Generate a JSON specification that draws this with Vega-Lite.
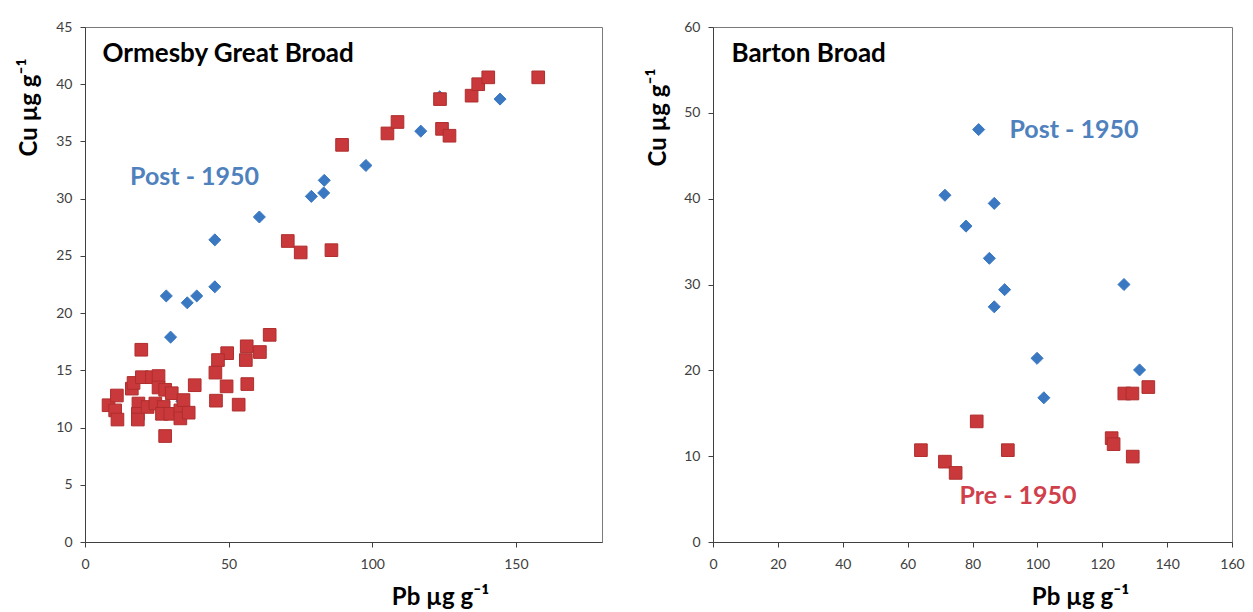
{
  "$schema": "https://vega.github.io/schema/vega-lite/v6.json",
  "padding": {"left": 16, "top": 19, "right": 5, "bottom": 0},
  "background": "white",
  "spacing": 42,
  "config": {
    "view": {"stroke": "#7a7a7a", "strokeWidth": 1},
    "axis": {
      "grid": false,
      "labelFont": "Lato",
      "labelFontSize": 14,
      "labelColor": "#404040",
      "titleFont": "Lato",
      "titleFontSize": 24,
      "titleFontWeight": "bold",
      "titleColor": "#000000",
      "tickSize": 5,
      "tickColor": "#404040",
      "domainColor": "#404040",
      "titleAlign": "center",
      "titleBaseline": "middle"
    },
    "axisX": {"labelPadding": 10, "labelFlush": false},
    "axisY": {"labelPadding": 8},
    "text": {"align": "left", "baseline": "middle", "font": "Lato", "fontWeight": "bold"}
  },
  "datasets": {
    "points": [
      {"panel": "O", "period": "Post", "Pb": 28.3, "Cu": 21.5},
      {"panel": "O", "period": "Post", "Pb": 29.8, "Cu": 17.9},
      {"panel": "O", "period": "Post", "Pb": 35.6, "Cu": 20.9},
      {"panel": "O", "period": "Post", "Pb": 38.9, "Cu": 21.5},
      {"panel": "O", "period": "Post", "Pb": 45.2, "Cu": 22.3},
      {"panel": "O", "period": "Post", "Pb": 45.2, "Cu": 26.4},
      {"panel": "O", "period": "Post", "Pb": 60.7, "Cu": 28.4},
      {"panel": "O", "period": "Post", "Pb": 78.8, "Cu": 30.2},
      {"panel": "O", "period": "Post", "Pb": 83.1, "Cu": 30.5},
      {"panel": "O", "period": "Post", "Pb": 83.3, "Cu": 31.6},
      {"panel": "O", "period": "Post", "Pb": 97.8, "Cu": 32.9},
      {"panel": "O", "period": "Post", "Pb": 116.9, "Cu": 35.9},
      {"panel": "O", "period": "Post", "Pb": 123.5, "Cu": 38.9},
      {"panel": "O", "period": "Post", "Pb": 144.5, "Cu": 38.7},
      {"panel": "O", "period": "Post", "Pb": 33.7, "Cu": 12.3},
      {"panel": "O", "period": "Pre", "Pb": 89.5, "Cu": 34.7},
      {"panel": "O", "period": "Pre", "Pb": 105.3, "Cu": 35.7},
      {"panel": "O", "period": "Pre", "Pb": 108.8, "Cu": 36.7},
      {"panel": "O", "period": "Pre", "Pb": 123.6, "Cu": 38.7},
      {"panel": "O", "period": "Pre", "Pb": 124.3, "Cu": 36.1},
      {"panel": "O", "period": "Pre", "Pb": 126.9, "Cu": 35.5},
      {"panel": "O", "period": "Pre", "Pb": 134.6, "Cu": 39.0},
      {"panel": "O", "period": "Pre", "Pb": 136.9, "Cu": 40.0},
      {"panel": "O", "period": "Pre", "Pb": 140.4, "Cu": 40.6},
      {"panel": "O", "period": "Pre", "Pb": 157.8, "Cu": 40.6},
      {"panel": "O", "period": "Pre", "Pb": 85.8, "Cu": 25.5},
      {"panel": "O", "period": "Pre", "Pb": 70.6, "Cu": 26.3},
      {"panel": "O", "period": "Pre", "Pb": 75.1, "Cu": 25.3},
      {"panel": "O", "period": "Pre", "Pb": 19.6, "Cu": 16.8},
      {"panel": "O", "period": "Pre", "Pb": 64.3, "Cu": 18.1},
      {"panel": "O", "period": "Pre", "Pb": 56.3, "Cu": 17.1},
      {"panel": "O", "period": "Pre", "Pb": 60.9, "Cu": 16.6},
      {"panel": "O", "period": "Pre", "Pb": 49.5, "Cu": 16.5},
      {"panel": "O", "period": "Pre", "Pb": 46.3, "Cu": 15.9},
      {"panel": "O", "period": "Pre", "Pb": 56.0, "Cu": 15.9},
      {"panel": "O", "period": "Pre", "Pb": 45.4, "Cu": 14.8},
      {"panel": "O", "period": "Pre", "Pb": 49.3, "Cu": 13.6},
      {"panel": "O", "period": "Pre", "Pb": 56.5, "Cu": 13.8},
      {"panel": "O", "period": "Pre", "Pb": 38.2, "Cu": 13.7},
      {"panel": "O", "period": "Pre", "Pb": 45.6, "Cu": 12.35},
      {"panel": "O", "period": "Pre", "Pb": 53.5, "Cu": 12.0},
      {"panel": "O", "period": "Pre", "Pb": 27.9, "Cu": 9.26},
      {"panel": "O", "period": "Pre", "Pb": 8.2, "Cu": 11.95},
      {"panel": "O", "period": "Pre", "Pb": 11.1, "Cu": 12.8},
      {"panel": "O", "period": "Pre", "Pb": 10.5, "Cu": 11.5},
      {"panel": "O", "period": "Pre", "Pb": 11.3, "Cu": 10.7},
      {"panel": "O", "period": "Pre", "Pb": 16.3, "Cu": 13.4},
      {"panel": "O", "period": "Pre", "Pb": 16.9, "Cu": 13.9},
      {"panel": "O", "period": "Pre", "Pb": 18.6, "Cu": 12.1},
      {"panel": "O", "period": "Pre", "Pb": 18.4, "Cu": 11.2},
      {"panel": "O", "period": "Pre", "Pb": 18.4, "Cu": 10.7},
      {"panel": "O", "period": "Pre", "Pb": 19.8, "Cu": 14.4},
      {"panel": "O", "period": "Pre", "Pb": 23.3, "Cu": 14.4},
      {"panel": "O", "period": "Pre", "Pb": 25.6, "Cu": 14.5},
      {"panel": "O", "period": "Pre", "Pb": 21.8, "Cu": 11.8},
      {"panel": "O", "period": "Pre", "Pb": 25.6, "Cu": 13.5},
      {"panel": "O", "period": "Pre", "Pb": 24.5, "Cu": 12.1},
      {"panel": "O", "period": "Pre", "Pb": 27.9, "Cu": 13.3},
      {"panel": "O", "period": "Pre", "Pb": 30.2, "Cu": 13.0},
      {"panel": "O", "period": "Pre", "Pb": 27.4, "Cu": 11.8},
      {"panel": "O", "period": "Pre", "Pb": 26.8, "Cu": 11.2},
      {"panel": "O", "period": "Pre", "Pb": 29.7, "Cu": 11.2},
      {"panel": "O", "period": "Pre", "Pb": 33.2, "Cu": 11.5},
      {"panel": "O", "period": "Pre", "Pb": 33.2, "Cu": 10.8},
      {"panel": "O", "period": "Pre", "Pb": 36.1, "Cu": 11.3},
      {"panel": "O", "period": "Pre", "Pb": 34.3, "Cu": 12.4},
      {"panel": "B", "period": "Post", "Pb": 81.9, "Cu": 48.05},
      {"panel": "B", "period": "Post", "Pb": 71.5, "Cu": 40.4},
      {"panel": "B", "period": "Post", "Pb": 86.7, "Cu": 39.45},
      {"panel": "B", "period": "Post", "Pb": 78.0, "Cu": 36.8},
      {"panel": "B", "period": "Post", "Pb": 85.2, "Cu": 33.05},
      {"panel": "B", "period": "Post", "Pb": 89.9, "Cu": 29.4},
      {"panel": "B", "period": "Post", "Pb": 86.7, "Cu": 27.4},
      {"panel": "B", "period": "Post", "Pb": 126.7, "Cu": 30.0},
      {"panel": "B", "period": "Post", "Pb": 99.9, "Cu": 21.4},
      {"panel": "B", "period": "Post", "Pb": 131.5, "Cu": 20.05},
      {"panel": "B", "period": "Post", "Pb": 102.0, "Cu": 16.8},
      {"panel": "B", "period": "Pre", "Pb": 64.1, "Cu": 10.7},
      {"panel": "B", "period": "Pre", "Pb": 71.5, "Cu": 9.36},
      {"panel": "B", "period": "Pre", "Pb": 74.8, "Cu": 8.05},
      {"panel": "B", "period": "Pre", "Pb": 81.3, "Cu": 14.05},
      {"panel": "B", "period": "Pre", "Pb": 90.9, "Cu": 10.7},
      {"panel": "B", "period": "Pre", "Pb": 122.9, "Cu": 12.1},
      {"panel": "B", "period": "Pre", "Pb": 123.5, "Cu": 11.4},
      {"panel": "B", "period": "Pre", "Pb": 129.4, "Cu": 9.95},
      {"panel": "B", "period": "Pre", "Pb": 126.8, "Cu": 17.3},
      {"panel": "B", "period": "Pre", "Pb": 129.3, "Cu": 17.3},
      {"panel": "B", "period": "Pre", "Pb": 134.2, "Cu": 18.05}
    ],
    "labels": [
      {"panel": "O", "kind": "title", "text": "Ormesby Great Broad", "Pb": 6.1, "Cu": 42.6},
      {"panel": "O", "kind": "Post", "text": "Post - 1950", "Pb": 15.7, "Cu": 31.9},
      {"panel": "B", "kind": "title", "text": "Barton Broad", "Pb": 5.7, "Cu": 56.9},
      {"panel": "B", "kind": "Post", "text": "Post - 1950", "Pb": 91.4, "Cu": 48.0},
      {"panel": "B", "kind": "Pre", "text": "Pre - 1950", "Pb": 76.0, "Cu": 5.4}
    ]
  },
  "hconcat": [
    {
      "width": 517,
      "height": 515,
      "layer": [
        {
          "data": {"name": "points"},
          "transform": [{"filter": "datum.panel === 'O'"}],
          "mark": {"type": "point", "filled": true, "opacity": 1, "strokeWidth": 1},
          "encoding": {
            "x": {"field": "Pb", "type": "quantitative", "scale": {"domain": [0, 180], "nice": false}, "axis": {"values": [0, 50, 100, 150], "title": "Pb µg g⁻¹", "titleX": 355, "titleY": 55}},
            "y": {"field": "Cu", "type": "quantitative", "scale": {"domain": [0, 45], "nice": false}, "axis": {"values": [0, 5, 10, 15, 20, 25, 30, 35, 40, 45], "title": "Cu µg g⁻¹", "titleX": -56, "titleY": 80}},
            "color": {"field": "period", "type": "nominal", "scale": {"domain": ["Post", "Pre"], "range": ["#3B78C2", "#C9383A"]}, "legend": null},
            "stroke": {"field": "period", "type": "nominal", "scale": {"domain": ["Post", "Pre"], "range": ["#3B78C2", "#B02E2E"]}, "legend": null},
            "shape": {"field": "period", "type": "nominal", "scale": {"domain": ["Post", "Pre"], "range": ["diamond", "square"]}, "legend": null},
            "size": {"field": "period", "type": "nominal", "scale": {"domain": ["Post", "Pre"], "range": [145, 160]}, "legend": null}
          }
        },
        {
          "data": {"name": "labels"},
          "transform": [{"filter": "datum.panel === 'O' && datum.kind === 'title'"}],
          "mark": {"type": "text", "fontSize": 26, "color": "#000000"},
          "encoding": {
            "x": {"field": "Pb", "type": "quantitative"},
            "y": {"field": "Cu", "type": "quantitative"},
            "text": {"field": "text"}
          }
        },
        {
          "data": {"name": "labels"},
          "transform": [{"filter": "datum.panel === 'O' && datum.kind === 'Post'"}],
          "mark": {"type": "text", "fontSize": 25, "color": "#4F81BD"},
          "encoding": {
            "x": {"field": "Pb", "type": "quantitative"},
            "y": {"field": "Cu", "type": "quantitative"},
            "text": {"field": "text"}
          }
        }
      ]
    },
    {
      "width": 519,
      "height": 515,
      "layer": [
        {
          "data": {"name": "points"},
          "transform": [{"filter": "datum.panel === 'B'"}],
          "mark": {"type": "point", "filled": true, "opacity": 1, "strokeWidth": 1},
          "encoding": {
            "x": {"field": "Pb", "type": "quantitative", "scale": {"domain": [0, 160], "nice": false}, "axis": {"values": [0, 20, 40, 60, 80, 100, 120, 140, 160], "title": "Pb µg g⁻¹", "titleX": 367, "titleY": 55}},
            "y": {"field": "Cu", "type": "quantitative", "scale": {"domain": [0, 60], "nice": false}, "axis": {"values": [0, 10, 20, 30, 40, 50, 60], "title": "Cu µg g⁻¹", "titleX": -55, "titleY": 90}},
            "color": {"field": "period", "type": "nominal", "scale": {"domain": ["Post", "Pre"], "range": ["#3B78C2", "#C9383A"]}, "legend": null},
            "stroke": {"field": "period", "type": "nominal", "scale": {"domain": ["Post", "Pre"], "range": ["#3B78C2", "#B02E2E"]}, "legend": null},
            "shape": {"field": "period", "type": "nominal", "scale": {"domain": ["Post", "Pre"], "range": ["diamond", "square"]}, "legend": null},
            "size": {"field": "period", "type": "nominal", "scale": {"domain": ["Post", "Pre"], "range": [145, 160]}, "legend": null}
          }
        },
        {
          "data": {"name": "labels"},
          "transform": [{"filter": "datum.panel === 'B' && datum.kind === 'title'"}],
          "mark": {"type": "text", "fontSize": 26, "color": "#000000"},
          "encoding": {
            "x": {"field": "Pb", "type": "quantitative"},
            "y": {"field": "Cu", "type": "quantitative"},
            "text": {"field": "text"}
          }
        },
        {
          "data": {"name": "labels"},
          "transform": [{"filter": "datum.panel === 'B' && datum.kind === 'Post'"}],
          "mark": {"type": "text", "fontSize": 25, "color": "#4F81BD"},
          "encoding": {
            "x": {"field": "Pb", "type": "quantitative"},
            "y": {"field": "Cu", "type": "quantitative"},
            "text": {"field": "text"}
          }
        },
        {
          "data": {"name": "labels"},
          "transform": [{"filter": "datum.panel === 'B' && datum.kind === 'Pre'"}],
          "mark": {"type": "text", "fontSize": 25, "color": "#D0404C"},
          "encoding": {
            "x": {"field": "Pb", "type": "quantitative"},
            "y": {"field": "Cu", "type": "quantitative"},
            "text": {"field": "text"}
          }
        }
      ]
    }
  ]
}
